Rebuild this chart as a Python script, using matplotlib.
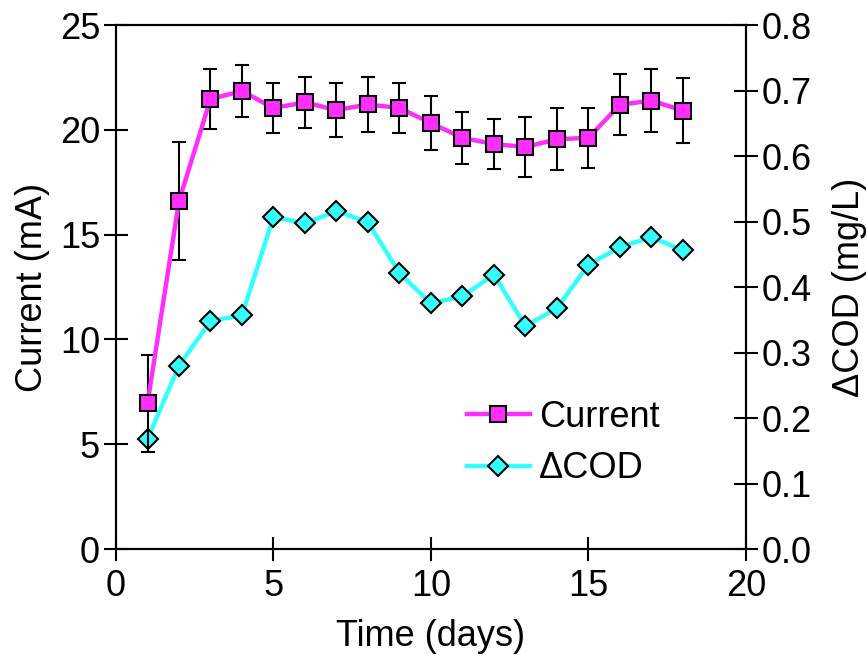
import numpy as np
import matplotlib
matplotlib.use("Agg")
import matplotlib.pyplot as plt

plt.rcParams['font.family'] = ['Liberation Sans', 'DejaVu Sans']

# data
days = [1, 2, 3, 4, 5, 6, 7, 8, 9, 10, 11, 12, 13, 14, 15, 16, 17, 18]
current = [6.95, 16.6, 21.47, 21.85, 21.04, 21.31, 20.94, 21.21, 21.04, 20.32,
           19.62, 19.32, 19.18, 19.55, 19.62, 21.2, 21.39, 20.92]
current_err = [2.3, 2.8, 1.45, 1.25, 1.2, 1.2, 1.3, 1.3, 1.2, 1.3,
               1.25, 1.2, 1.45, 1.47, 1.42, 1.45, 1.5, 1.55]
dcod = [0.168, 0.280, 0.348, 0.357, 0.507, 0.497, 0.516, 0.499, 0.421, 0.375,
        0.386, 0.419, 0.340, 0.368, 0.434, 0.461, 0.476, 0.456]

magenta = '#FF2EFF'
cyan = '#33FFFF'
fs = 26

fig = plt.figure(figsize=(8.67, 6.55), dpi=100)
ax = fig.add_axes([0.1338, 0.1618, 0.7266, 0.8])
ax2 = ax.twinx()

ax.errorbar(days, current, yerr=current_err, fmt='none', ecolor='black',
            elinewidth=1.5, capsize=5, capthick=1.5, zorder=2)
l1, = ax.plot(days, current, color=magenta, lw=3.2, marker='s', ms=11,
              mfc=magenta, mec='black', mew=1.5, zorder=3, label='Current')
l2, = ax2.plot(days, dcod, color=cyan, lw=3.2, marker='D', ms=10,
               mfc=cyan, mec='black', mew=1.5, zorder=3, label='ΔCOD')

ax.set_xlim(0, 20)
ax.set_ylim(0, 25)
ax2.set_ylim(0, 0.8)
ax.set_xticks([0, 5, 10, 15, 20])
ax.set_yticks([0, 5, 10, 15, 20, 25])
ax2.set_yticks(np.arange(0, 0.81, 0.1))
ax2.set_yticklabels(['%.1f' % v for v in np.arange(0, 0.81, 0.1)])

for a in (ax, ax2):
    a.tick_params(direction='inout', length=17, width=1.5, labelsize=fs, pad=3)
    for s in a.spines.values():
        s.set_linewidth(1.5)
ax.tick_params(axis='x', pad=6)

ax.set_xlabel('Time (days)', fontsize=fs, labelpad=11)
ax.set_ylabel('Current (mA)', fontsize=fs, labelpad=7)
ax2.set_ylabel('ΔCOD (mg/L)', fontsize=fs, labelpad=14)

ax.set_zorder(ax2.get_zorder() + 1)
ax.patch.set_visible(False)

ax.legend([l1, l2], ['Current', 'ΔCOD'], loc='center left',
          bbox_to_anchor=(0.557, 0.202), frameon=False, fontsize=fs,
          borderpad=0, borderaxespad=0,
          handlelength=1.75, handletextpad=0.25, labelspacing=0.46)

fig.savefig('out.png', dpi=100)
